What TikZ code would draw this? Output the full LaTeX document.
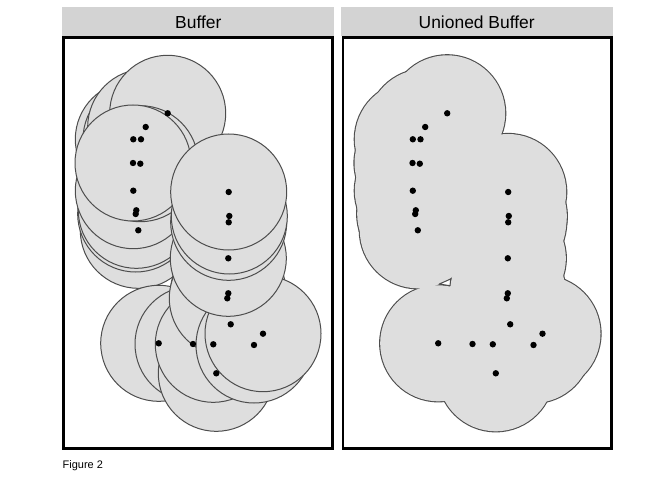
\documentclass[tikz,border=0pt]{standalone}
\usepackage{fontspec}
\setmainfont{Liberation Sans}
\usepackage{tikz}

\definecolor{stripgray}{HTML}{D3D3D3}
\definecolor{buffgray}{HTML}{DEDEDE}
\definecolor{edgegray}{HTML}{4D4D4D}

\newcommand{\bufferpts}{138.3/230.3, 135.7/214, 136.3/210.3, 133.3/190.7,
  133.3/139.3, 141/139.3, 145.7/127, 167.7/113.3, 140.3/163.7, 133/163,
  158.7/343.3, 193/344, 230.7/324.3, 216.3/373.3, 213.3/344.3, 228.3/293.3,
  227.3/298.3, 254/345, 263/333.7, 228.3/258.3, 228.7/222.3, 229.3/216, 228.7/192}

\begin{document}
\begin{tikzpicture}[x=1bp, y=-1bp,
    strip/.style={fill=stripgray},
    panel/.style={draw=black, line width=2.6bp},
    disc/.style={fill=buffgray, draw=edgegray, line width=1bp},
    dot/.style={fill=black}]
  \useasboundingbox (0,0) rectangle (672,480);

  % strips and titles
  \fill[strip] (62,7.3) rectangle (334,36);
  \fill[strip] (341.3,7.3) rectangle (613.3,36);
  \node[font=\fontsize{17.5}{20}\selectfont] (lefttitle) at (198.3,22.5) {Buffer};
  \node[font=\fontsize{17.5}{20}\selectfont] (righttitle) at (476.7,22.5) {Unioned Buffer};

  % left panel: one disc per point
  \foreach \x/\y in \bufferpts
    \filldraw[disc] (\x,\y) circle[radius=58bp];
  \foreach \x/\y in \bufferpts
    \fill[dot] (\x,\y) circle[radius=3.2bp];

  % right panel: union of the discs
  \begin{scope}[xshift=279.5bp]
    \foreach \x/\y in \bufferpts
      \draw[edgegray, line width=2.2bp] (\x,\y) circle[radius=58bp];
    \foreach \x/\y in \bufferpts
      \fill[buffgray] (\x,\y) circle[radius=58bp];
    \filldraw[fill=white, draw=edgegray, line width=1bp, line join=round]
      (159.8,284) -- (171.2,279) -- (170.5,285.7) -- cycle;
    \foreach \x/\y in \bufferpts
      \fill[dot] (\x,\y) circle[radius=3.2bp];
  \end{scope}

  % frames
  \draw[panel] (63.5,37.7) rectangle (332.5,448.5);
  \draw[panel] (343,37.7) rectangle (611.7,448.5);

  \node[anchor=west, font=\fontsize{11}{13}\selectfont, inner sep=0pt] (caption) at (62.5,466) {Figure 2};
\end{tikzpicture}
\end{document}
